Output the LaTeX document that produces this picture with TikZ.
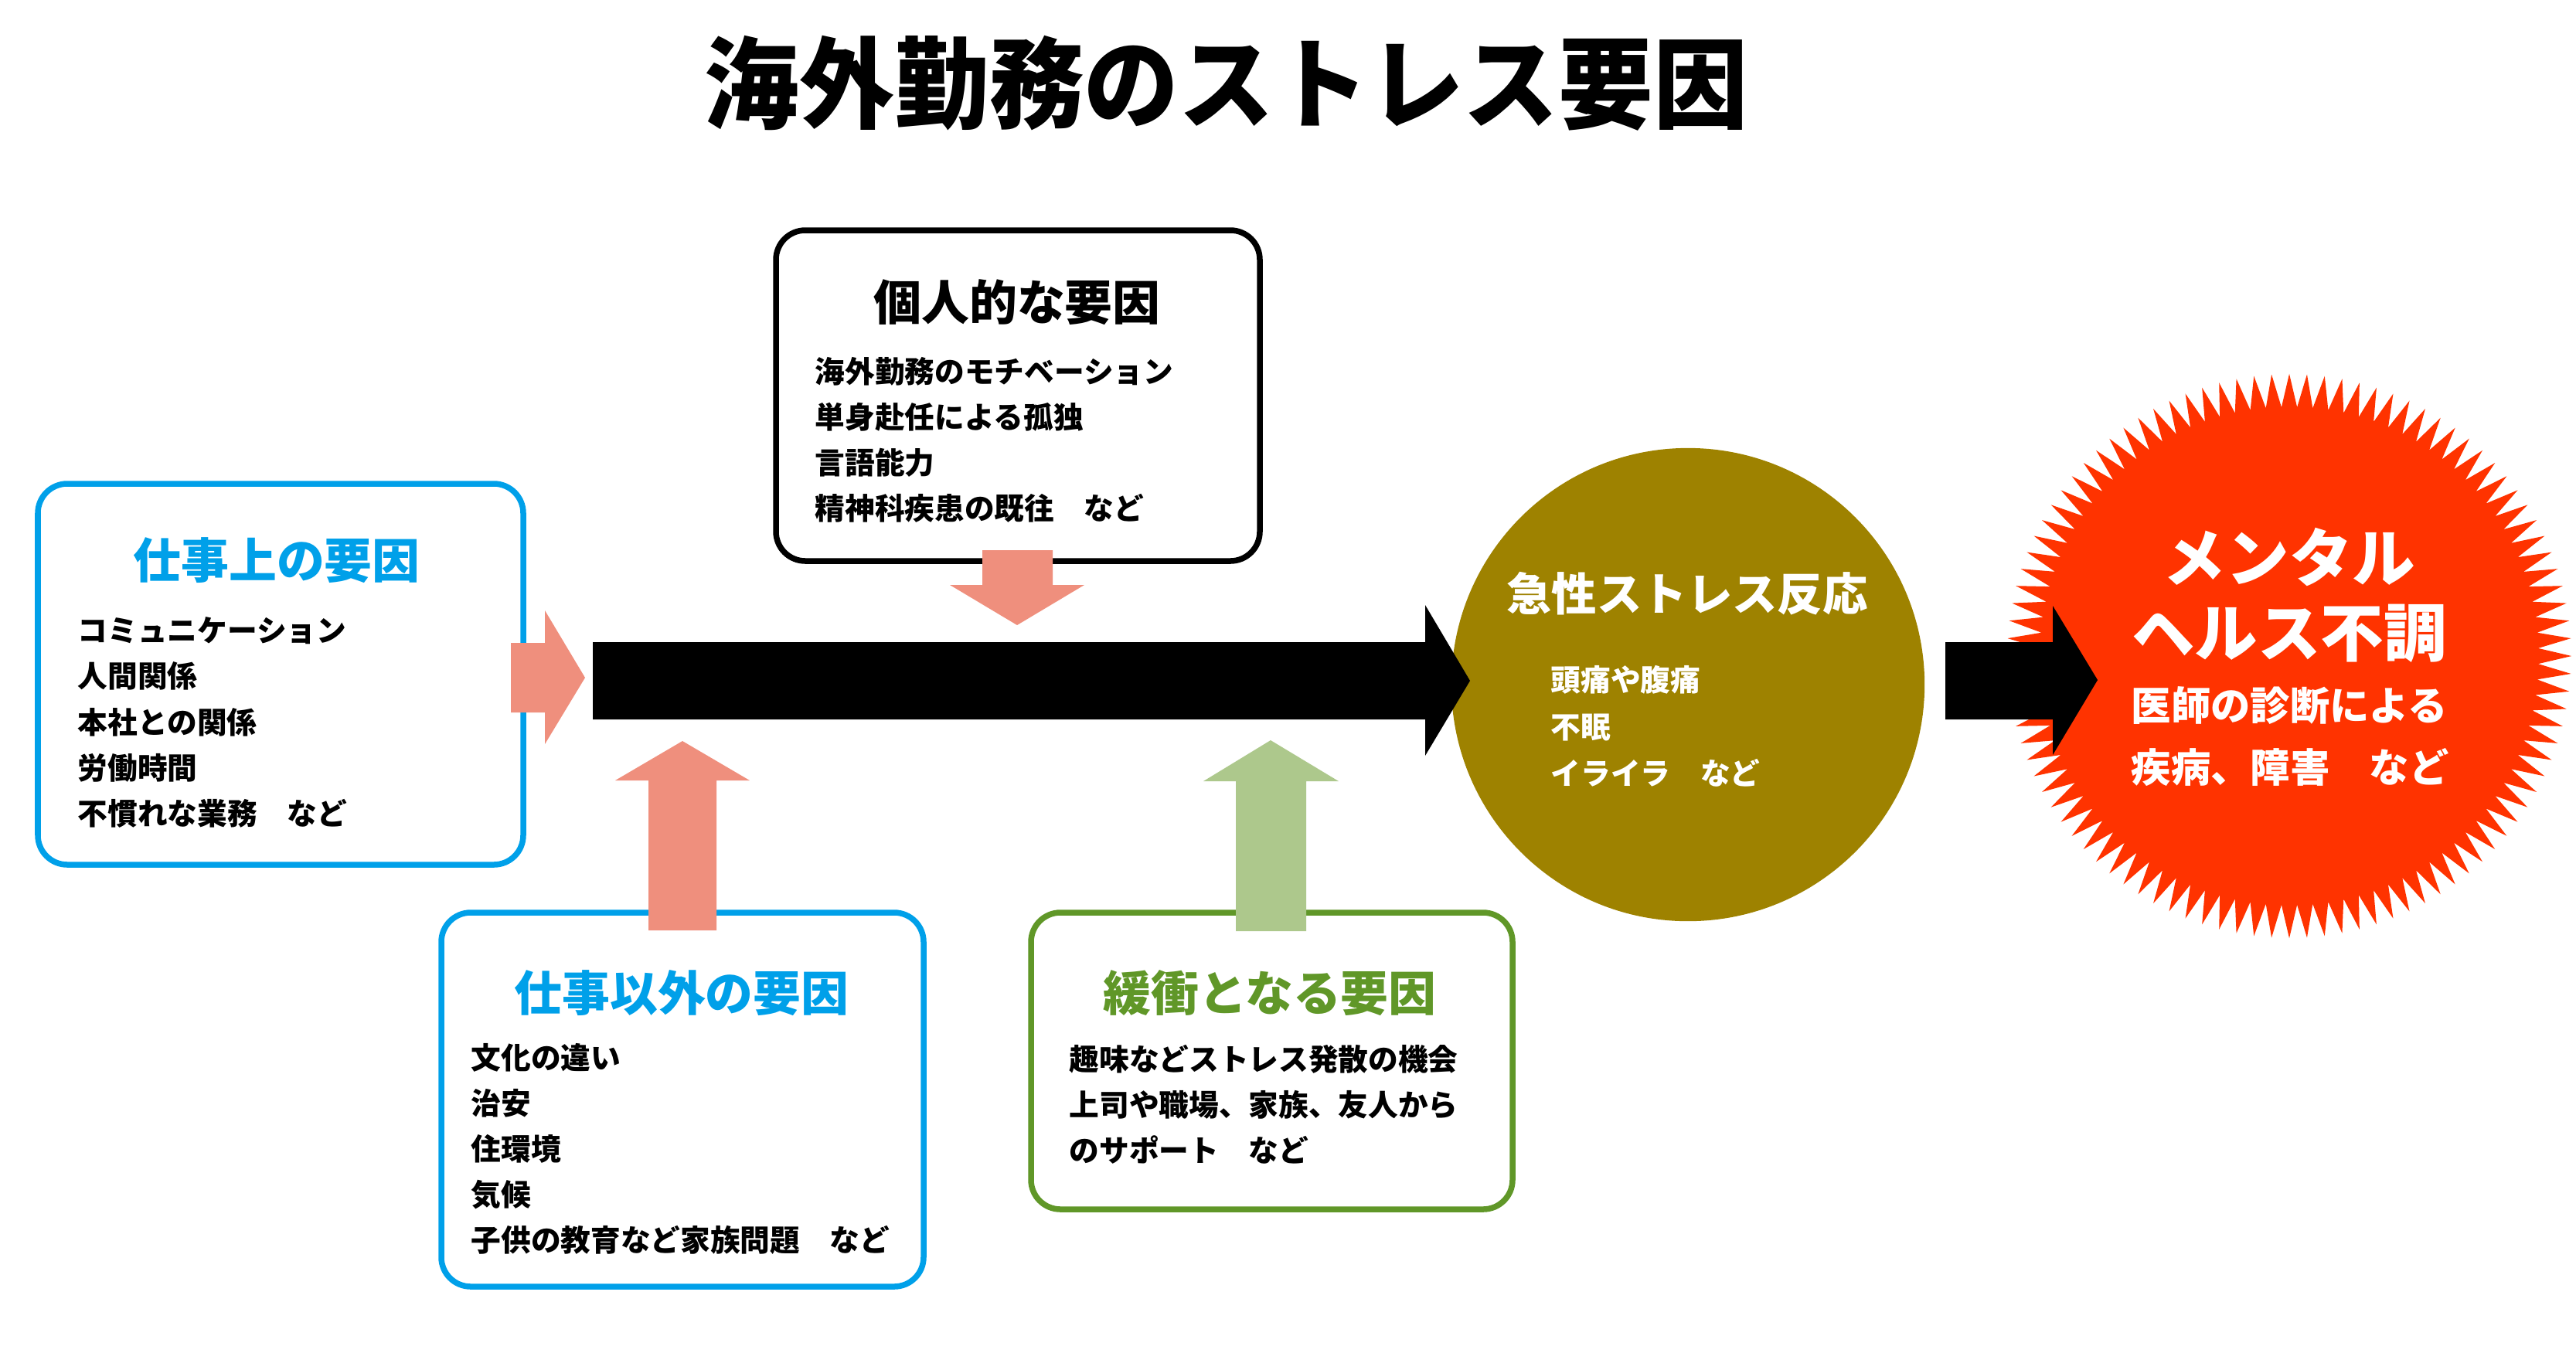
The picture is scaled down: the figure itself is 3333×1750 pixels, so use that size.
\documentclass[tikz,border=0pt]{standalone}
\usepackage{fontspec}
\newfontfamily\jp{Noto Sans CJK JP}
\usetikzlibrary{shapes.geometric}

\definecolor{kyan}{RGB}{0,160,233}
\definecolor{midori}{RGB}{96,151,40}
\definecolor{sake}{RGB}{239,143,125}
\definecolor{wakaba}{RGB}{173,200,140}
\definecolor{oudo}{RGB}{158,130,0}
\definecolor{aka}{RGB}{255,51,0}

\begin{document}
\begin{tikzpicture}[x=0.01cm, y=-0.01cm,
    waku/.style={line width=0.075cm, rounded corners=0.38cm},
    midashi/.style={font=\jp\bfseries\fontsize{17.6}{21}\selectfont, inner sep=0pt},
    koumoku/.style={font=\jp\bfseries\fontsize{11}{16.8}\selectfont, align=left, anchor=west, inner sep=0pt}]

    % 1. 全体の大きさ（3333 x 1750 px）
    \useasboundingbox (0,0) rectangle (3333,1750);

    % 2. タイトル
    \node[font=\jp\bfseries\fontsize{34.9}{40}\selectfont, inner sep=0pt] (title) at (1587,108)
        {\scalebox{1}[1.05]{海外勤務のストレス要因}};

    % 3. 四つの枠（角丸）
    \draw[waku, kyan]   (49,626)   rectangle (677,1119);   % 仕事上
    \draw[waku, black]  (1004,298) rectangle (1630,726);   % 個人的
    \draw[waku, kyan]   (571,1181) rectangle (1195,1665);  % 仕事以外
    \draw[waku, midori] (1334,1181) rectangle (1957,1565); % 緩衝

    % 4. 急性ストレス反応の円とメンタルヘルス不調の爆発形
    \node[circle, fill=oudo, minimum size=6.12cm, inner sep=0pt] (kyusei) at (2184,886) {};
    \node[star, star points=100, star point height=0.43cm, minimum size=7.3cm,
          fill=aka, inner sep=0pt] (fuchou) at (2962,849) {};

    % 5. 矢印（サーモン色・若葉色・黒）
    \fill[sake] (661,832) -- (705,832) -- (705,790) -- (757,877)
        -- (705,963) -- (705,922) -- (661,922) -- cycle;
    \fill[sake] (1271,712) -- (1362,712) -- (1362,757) -- (1403,757)
        -- (1316,809) -- (1229,757) -- (1271,757) -- cycle;
    \fill[sake] (839,1204) -- (839,1010) -- (796,1010) -- (883,959)
        -- (970,1010) -- (927,1010) -- (927,1204) -- cycle;
    \fill[wakaba] (1599,1205) -- (1599,1011) -- (1557,1011) -- (1644,958)
        -- (1732,1011) -- (1690,1011) -- (1690,1205) -- cycle;
    \fill[black] (767,831) -- (1844,831) -- (1844,783) -- (1902,881)
        -- (1844,978) -- (1844,931) -- (767,931) -- cycle;
    \fill[black] (2517,831) -- (2656,831) -- (2656,784) -- (2714,880)
        -- (2656,977) -- (2656,931) -- (2517,931) -- cycle;

    % 6. 枠の中の文字
    \node[midashi, text=kyan] (shigoto) at (358,725) {仕事上の要因};
    \node[koumoku] (shigotoList) at (100,935)
        {コミュニケーション\\人間関係\\本社との関係\\労働時間\\不慣れな業務　など};

    \node[midashi] (kojin) at (1316,391) {個人的な要因};
    \node[koumoku] (kojinList) at (1054,569)
        {海外勤務のモチベーション\\単身赴任による孤独\\言語能力\\精神科疾患の既往　など};

    \node[midashi, text=kyan] (igai) at (882,1285) {仕事以外の要因};
    \node[koumoku] (igaiList) at (609,1487)
        {文化の違い\\治安\\住環境\\気候\\子供の教育など家族問題　など};

    \node[midashi, text=midori] (kansho) at (1643,1285) {緩衝となる要因};
    \node[koumoku] (kanshoList) at (1383,1429)
        {趣味などストレス発散の機会\\上司や職場、家族、友人から\\のサポート　など};

    % 7. 円と爆発形の中の文字（白）
    \node[midashi, text=white, font=\jp\bfseries\fontsize{16.6}{20}\selectfont] (kyuseiTitle) at (2183,768)
        {急性ストレス反応};
    \node[koumoku, text=white, font=\jp\bfseries\fontsize{11}{17.2}\selectfont] (kyuseiList) at (2006,940)
        {頭痛や腹痛\\不眠\\イライラ　など};

    \node[text=white, font=\jp\bfseries\fontsize{23.2}{27.6}\selectfont, align=center, inner sep=0pt]
        (fuchouTitle) at (2962,770) {メンタル\\ヘルス不調};
    \node[koumoku, text=white, font=\jp\bfseries\fontsize{14.6}{22.5}\selectfont] (fuchouList) at (2757,953)
        {医師の診断による\\疾病、障害　など};

\end{tikzpicture}
\end{document}
